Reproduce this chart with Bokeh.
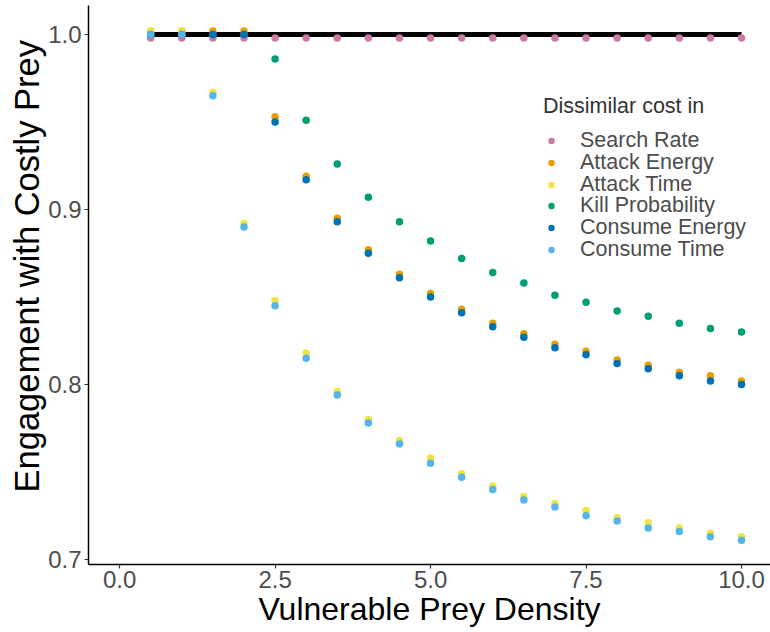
from bokeh.plotting import figure
from bokeh.models import Range1d, Legend, LegendItem, FixedTicker, Title
from bokeh.embed import file_html
from bokeh.resources import INLINE

density = [0.5, 1.0, 1.5, 2.0, 2.5, 3.0, 3.5, 4.0, 4.5, 5.0,
           5.5, 6.0, 6.5, 7.0, 7.5, 8.0, 8.5, 9.0, 9.5, 10.0]

baseline = [1.0] * 20

search_rate = [0.998] * 20
attack_energy = [1.002, 1.002, 1.002, 1.002, 0.953, 0.919, 0.895, 0.877, 0.863, 0.852,
                 0.843, 0.835, 0.829, 0.823, 0.819, 0.814, 0.811, 0.807, 0.805, 0.802]
attack_time = [1.002, 1.002, 0.967, 0.892, 0.848, 0.818, 0.796, 0.780, 0.768, 0.758,
               0.749, 0.742, 0.736, 0.732, 0.728, 0.724, 0.721, 0.718, 0.715, 0.713]
kill_prob = [1.0, 1.0, 1.0, 1.0, 0.986, 0.951, 0.926, 0.907, 0.893, 0.882,
             0.872, 0.864, 0.858, 0.851, 0.847, 0.842, 0.839, 0.835, 0.832, 0.830]
consume_energy = [1.0, 1.0, 1.0, 1.0, 0.950, 0.917, 0.893, 0.875, 0.861, 0.850,
                  0.841, 0.833, 0.827, 0.821, 0.817, 0.812, 0.809, 0.805, 0.802, 0.800]
consume_time = [1.0, 1.0, 0.965, 0.890, 0.845, 0.815, 0.794, 0.778, 0.766, 0.755,
                0.747, 0.740, 0.734, 0.730, 0.725, 0.722, 0.718, 0.716, 0.713, 0.711]

series_names = ["Search Rate", "Attack Energy", "Attack Time",
                "Kill Probability", "Consume Energy", "Consume Time"]
series_values = [search_rate, attack_energy, attack_time,
                 kill_prob, consume_energy, consume_time]
series_colors = ["#CC79A7", "#E69F00", "#F0E442", "#009E73", "#0072B2", "#56B4E9"]

x_ticks = [0.0, 2.5, 5.0, 7.5, 10.0]
y_ticks = [0.7, 0.8, 0.9, 1.0]

FONT = "Liberation Sans"

p = figure(width=770, height=632, output_backend="svg", toolbar_location=None,
           x_range=Range1d(-0.5, 10.466), y_range=Range1d(0.6971, 1.0166),
           min_border_left=88, min_border_right=0, min_border_top=5, min_border_bottom=68)
p.outline_line_color = None
p.xgrid.visible = False
p.ygrid.visible = False
p.background_fill_color = "white"
p.border_fill_color = "white"

p.line(density, baseline, line_color="black", line_width=5)

renderers = []
for name, vals, col in zip(series_names, series_values, series_colors):
    r = p.scatter(density, vals, size=7.5, fill_color=col, line_color=None)
    renderers.append(r)

for ax in (p.xaxis[0], p.yaxis[0]):
    ax.axis_line_color = "black"
    ax.axis_line_width = 1.5
    ax.major_tick_line_color = "#333333"
    ax.major_tick_line_width = 1.2
    ax.major_tick_out = 4
    ax.major_tick_in = 0
    ax.minor_tick_line_color = None
    ax.major_label_text_font = FONT
    ax.major_label_text_font_size = "24px"
    ax.major_label_text_color = "#4D4D4D"
    ax.axis_label_text_font = FONT
    ax.axis_label_text_font_style = "normal"
    ax.axis_label_text_color = "black"

p.xaxis.ticker = FixedTicker(ticks=x_ticks)
p.yaxis.ticker = FixedTicker(ticks=y_ticks)
p.xaxis.major_label_overrides = {t: f"{t:.1f}" for t in x_ticks}
p.yaxis.major_label_overrides = {t: f"{t:.1f}" for t in y_ticks}
p.xaxis.axis_label = "Vulnerable Prey Density"
p.xaxis.axis_label_text_font_size = "32px"
p.xaxis.major_label_standoff = 2
p.yaxis.major_label_standoff = 3
p.xaxis.axis_label_standoff = 0

# y axis title as a side title, started from the bottom and shifted upward as in the reference
ytitle = Title(text="Engagement with Costly Prey", align="left", offset=72,
               text_font=FONT, text_font_size="34.5px", text_font_style="normal",
               text_color="black", standoff=0)
p.add_layout(ytitle, "left")

# legend: one single-row legend per entry so the rows can sit as tightly as in the reference
legend_bottoms = [411.0, 389.2, 367.4, 345.6, 323.8, 302.0]
for i, (name, r, vy) in enumerate(zip(series_names, renderers, legend_bottoms)):
    lg = Legend(items=[LegendItem(label=name, renderers=[r])], location=(455, vy))
    if i == 0:
        lg.title = "Dissimilar cost in"
        lg.title_text_font = FONT
        lg.title_text_font_size = "21.5px"
        lg.title_text_font_style = "normal"
        lg.title_text_color = "#333333"
        lg.title_standoff = 9
    lg.label_text_font = FONT
    lg.label_text_font_size = "21.5px"
    lg.label_text_color = "#4D4D4D"
    lg.label_height = 20
    lg.glyph_height = 17
    lg.glyph_width = 16
    lg.label_standoff = 21
    lg.spacing = 0
    lg.padding = 0
    lg.margin = 0
    lg.border_line_color = None
    lg.background_fill_alpha = 0
    p.add_layout(lg)

open("out.html", "w").write(file_html(p, INLINE))
